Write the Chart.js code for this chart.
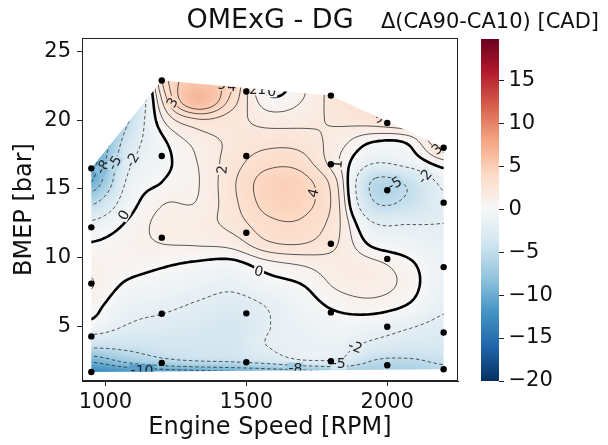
<!DOCTYPE html>
<html><head><meta charset="utf-8">
<script src="https://cdn.jsdelivr.net/npm/chart.js@4.4.1/dist/chart.umd.min.js"></script>
<style>
html,body{margin:0;padding:0;background:#fff;}
#wrap{position:relative;width:608px;height:445px;overflow:hidden;}
#main{position:absolute;left:0;top:0;}
#cbar{position:absolute;left:372px;top:0;}
</style></head><body>
<div id="wrap"><canvas id="main" width="608" height="445"></canvas><canvas id="cbar" width="236" height="445"></canvas></div>
<script>
// ---------- DATA ----------
const titleText = 'OMExG - DG';
const cbLabelText = 'Δ(CA90-CA10) [CAD]';
const xTitle = 'Engine Speed [RPM]';
const yTitle = 'BMEP [bar]';
const xTicks = [1000, 1500, 2000];
const yTicks = [5, 10, 15, 20, 25];
const cbTicks = [-20, -15, -10, -5, 0, 5, 10, 15];

// measured operating points (black dots)
const measSpeed = [950,950,950,950,950, 1200,1200,1200,1200,1200, 1500,1500,1500,1500,1500, 1800,1800,1800,1800,1800, 2000,2000,2000,2000,2000, 2200,2200,2200,2200,2200];
const measBmep  = [1.66,4.25,8.1,12.2,16.5, 2.32,5.9,11.45,17.4,22.9, 2.37,5.93,11.8,17.4,22.1, 2.44,6.0,11.0,16.8,21.8, 2.15,4.95,9.9,14.9,19.8, 1.86,4.54,9.3,14.0,18.0];

// field: one column per engine speed, values along bmepNodes
const speedNodes = [950,1075,1200,1325,1450,1575,1700,1825,1950,2075,2200];
const bmepNodes  = [1.5,2.5,3.5,5,6.5,8,9.5,11,12.5,14,15.5,17,18.5,20,21.5,23];
const dCA_950  = [-13,-9.5,-4.6,-0.6,0.5,1.05,0.7,0.1,-1.6,-5.5,-10,-11,-12,-12,-12,-12];
const dCA_1075 = [-12.5,-7.2,-4.3,-2.1,-1.2,-0.2,0.5,0.6,0.1,-0.9,-1.8,-2.8,-4.0,-5.5,-7,-8];
const dCA_1200 = [-12,-5.6,-3.8,-2.6,-1.6,-0.7,0.15,1.0,1.3,0.9,0.0,-0.5,-0.3,0.8,2.0,3.0];
const dCA_1325 = [-11.5,-4.8,-3.6,-3.0,-2.2,-1.2,-0.2,1.1,1.5,1.05,0.9,1.0,1.4,2.8,6.5,5.5];
const dCA_1450 = [-11,-4.5,-3.6,-3.4,-2.7,-1.6,-0.4,1.4,2.4,2.7,2.8,2.5,2.2,2.4,3.6,4.2];
const dCA_1575 = [-10.5,-3.6,-2.0,-2.1,-1.9,-0.6,0.6,2.8,3.7,4.4,4.5,3.6,2.6,1.6,0.3,-0.8];
const dCA_1700 = [-10,-2.1,-1.5,-1.2,-0.7,0.0,1.1,3.0,3.8,4.4,4.4,3.4,2.5,1.7,1.0,0.8];
const dCA_1825 = [-8.5,-2.2,-1.4,-0.7,0.3,1.2,1.6,2.0,2.2,2.2,1.9,1.1,1.5,2.2,2.6,2.6];
const dCA_1950 = [-7,-5.0,-2.6,-1.0,0.6,1.4,1.3,-0.3,-1.9,-4.8,-5.3,-1.7,0.1,2.6,3.2,3.5];
const dCA_2075 = [-7,-5.3,-3.2,-1.8,-0.1,0.6,0.3,-0.9,-2.1,-4.5,-4.6,-1.0,0.3,3.2,3.5,3.5];
const dCA_2200 = [-6,-4.5,-3.3,-2.5,-1.7,-1.3,-1.2,-1.6,-2.0,-2.2,-1.5,0.8,3.2,3.5,3.5,3.5];

const contourLevels = [-10,-8,-5,-2,0,1,2,3,4,5];
// inline contour labels
const clabText  = ['5','4','2','1','0','3','2','4','1','3','3','0','0','-8','-5','-2','-5','-2','-2','-5','-8','-10'];
const clabSpeed = [1413,1448,1525,1555,1590,1237,1414,1737,1822,1967,2176,1065,1544,990,1032,1095,2026,2133,1887,1828,1674,1130];
const clabBmep  = [22.6,22.5,22.25,22.25,22.1,21.3,16.4,14.7,16.8,20.2,17.9,13.1,9.0,16.6,16.9,17.1,15.4,15.9,3.5,2.27,1.9,1.78];
const clabAngle = [0,0,0,0,0,-60,-85,-75,-85,-30,-40,-60,15,-60,-60,-60,-30,-50,20,0,0,0];

// ---------- helpers ----------
const columns = [dCA_950,dCA_1075,dCA_1200,dCA_1325,dCA_1450,dCA_1575,dCA_1700,dCA_1825,dCA_1950,dCA_2075,dCA_2200];
const grid = bmepNodes.map((_, r) => columns.map(col => col[r])); // grid[r][c]
const RDBU_R = [[5,48,97],[33,102,172],[67,147,195],[146,197,222],[209,229,240],[247,247,247],[253,219,199],[244,165,130],[214,96,77],[178,24,43],[103,0,31]];
const VMIN = -20, VMAX = 20;
function cmap(v){
  let t = (v - VMIN) / (VMAX - VMIN); t = Math.max(0, Math.min(1, t));
  const f = t * 10; const k = Math.min(9, Math.floor(f)); const s = f - k;
  const a = RDBU_R[k], b = RDBU_R[k+1];
  return [a[0]+(b[0]-a[0])*s, a[1]+(b[1]-a[1])*s, a[2]+(b[2]-a[2])*s];
}
function fracIndex(nodes, x){
  if (x <= nodes[0]) return 0;
  const n = nodes.length;
  if (x >= nodes[n-1]) return n-1;
  let k = 0; while (k < n-2 && x > nodes[k+1]) k++;
  return k + (x - nodes[k]) / (nodes[k+1] - nodes[k]);
}
function cub(p0,p1,p2,p3,t){
  return p1 + 0.5*t*(p2-p0 + t*(2*p0-5*p1+4*p2-p3 + t*(3*(p1-p2)+p3-p0)));
}
function bicubic(u, v){
  const nc = speedNodes.length, nr = bmepNodes.length;
  let i = Math.min(nc-2, Math.max(0, Math.floor(u))), j = Math.min(nr-2, Math.max(0, Math.floor(v)));
  const t = u - i, s = v - j;
  const cl = (k, n) => Math.max(0, Math.min(n-1, k));
  const rows = [];
  for (let dj = -1; dj <= 2; dj++){
    const row = grid[cl(j+dj, nr)];
    rows.push(cub(row[cl(i-1,nc)], row[cl(i,nc)], row[cl(i+1,nc)], row[cl(i+2,nc)], t));
  }
  return cub(rows[0], rows[1], rows[2], rows[3], s);
}
function convexHull(P){
  P = P.slice().sort((a,b)=>a[0]-b[0]||a[1]-b[1]);
  const cross=(o,a,b)=>(a[0]-o[0])*(b[1]-o[1])-(a[1]-o[1])*(b[0]-o[0]);
  const lo=[], up=[];
  for (const p of P){ while(lo.length>=2&&cross(lo[lo.length-2],lo[lo.length-1],p)<=0) lo.pop(); lo.push(p); }
  for (let i=P.length-1;i>=0;i--){ const p=P[i]; while(up.length>=2&&cross(up[up.length-2],up[up.length-1],p)<=0) up.pop(); up.push(p); }
  up.pop(); lo.pop(); return lo.concat(up);
}
function marchingSquares(F, nx, ny, lev){
  const segs = [], pts = new Map();
  function ep(t,i,j){
    const k = t+i+'_'+j;
    if (!pts.has(k)){
      let a,b,x,y;
      if (t==='h'){ a=F[j*nx+i]; b=F[j*nx+i+1]; x=i+(lev-a)/(b-a); y=j; }
      else { a=F[j*nx+i]; b=F[(j+1)*nx+i]; x=i; y=j+(lev-a)/(b-a); }
      pts.set(k,[x,y]);
    }
    return k;
  }
  for (let j=0;j<ny-1;j++) for (let i=0;i<nx-1;i++){
    const a=F[j*nx+i], b=F[j*nx+i+1], c=F[(j+1)*nx+i+1], d=F[(j+1)*nx+i];
    const idx=(a>lev?8:0)|(b>lev?4:0)|(c>lev?2:0)|(d>lev?1:0);
    if (idx===0||idx===15) continue;
    const T=()=>ep('h',i,j), B=()=>ep('h',i,j+1), L=()=>ep('v',i,j), R=()=>ep('v',i+1,j);
    const add=(p,q)=>segs.push([p,q]);
    const m=(a+b+c+d)/4;
    switch(idx){
      case 1: add(L(),B()); break;
      case 2: add(B(),R()); break;
      case 3: add(L(),R()); break;
      case 4: add(T(),R()); break;
      case 5: if(m>lev){add(T(),L()); add(B(),R());} else {add(T(),R()); add(L(),B());} break;
      case 6: add(T(),B()); break;
      case 7: add(T(),L()); break;
      case 8: add(T(),L()); break;
      case 9: add(T(),B()); break;
      case 10: if(m>lev){add(T(),R()); add(L(),B());} else {add(T(),L()); add(B(),R());} break;
      case 11: add(T(),R()); break;
      case 12: add(L(),R()); break;
      case 13: add(B(),R()); break;
      case 14: add(L(),B()); break;
    }
  }
  const adj = new Map();
  segs.forEach((s,n)=>{ for (const k of s){ if(!adj.has(k)) adj.set(k,[]); adj.get(k).push(n); } });
  const used = new Uint8Array(segs.length), lines = [];
  for (let n=0;n<segs.length;n++){
    if (used[n]) continue; used[n]=1;
    const line=[segs[n][0], segs[n][1]];
    for (const dir of [1,0]){
      let end = dir ? line[line.length-1] : line[0];
      while (true){
        const cand = adj.get(end); let nxt=-1;
        for (const c of cand){ if(!used[c]){ nxt=c; break; } }
        if (nxt<0) break;
        used[nxt]=1; const s=segs[nxt]; const o = s[0]===end ? s[1] : s[0];
        if (dir) line.push(o); else line.unshift(o);
        end=o;
      }
    }
    lines.push(line.map(k=>pts.get(k)));
  }
  return lines;
}

const FONT = 'DejaVu Sans';
Chart.defaults.font.family = FONT;
Chart.defaults.color = '#111';

const fieldPlugin = {
  id: 'field',
  beforeDatasetsDraw(chart){
    const {ctx, chartArea, scales} = chart;
    const xs = scales.x, ys = scales.y;
    const L = chartArea.left, T = chartArea.top;
    const W = Math.round(chartArea.right - L), H = Math.round(chartArea.bottom - T);
    const off = document.createElement('canvas'); off.width = W; off.height = H;
    const octx = off.getContext('2d'); const img = octx.createImageData(W, H);
    const us = new Float64Array(W), vs = new Float64Array(H);
    for (let i=0;i<W;i++) us[i] = fracIndex(speedNodes, xs.getValueForPixel(L+i+0.5));
    for (let j=0;j<H;j++) vs[j] = fracIndex(bmepNodes, ys.getValueForPixel(T+j+0.5));
    for (let j=0;j<H;j++) for (let i=0;i<W;i++){
      const c = cmap(bicubic(us[i], vs[j])); const k=(j*W+i)*4;
      img.data[k]=c[0]; img.data[k+1]=c[1]; img.data[k+2]=c[2]; img.data[k+3]=255;
    }
    octx.putImageData(img, 0, 0);
    const hull = convexHull(measSpeed.map((x,i)=>[x, measBmep[i]]));
    ctx.save();
    ctx.beginPath();
    hull.forEach((p,k)=>{ const px=xs.getPixelForValue(p[0]), py=ys.getPixelForValue(p[1]); if(k) ctx.lineTo(px,py); else ctx.moveTo(px,py); });
    ctx.closePath(); ctx.clip();
    ctx.drawImage(off, L, T);
    // contour lines
    const S = 2, nx = Math.floor(W/S)+1, ny = Math.floor(H/S)+1;
    const F = new Float64Array(nx*ny);
    const cu = [], cv = [];
    for (let i=0;i<nx;i++) cu.push(fracIndex(speedNodes, xs.getValueForPixel(L+i*S)));
    for (let j=0;j<ny;j++) cv.push(fracIndex(bmepNodes, ys.getValueForPixel(T+j*S)));
    for (let j=0;j<ny;j++) for (let i=0;i<nx;i++) F[j*nx+i] = bicubic(cu[i], cv[j]);
    contourLevels.forEach(level => {
      const lines = marchingSquares(F, nx, ny, level);
      ctx.beginPath();
      lines.forEach(line => { line.forEach((p,k)=>{ const px=L+p[0]*S, py=T+p[1]*S; if(k) ctx.lineTo(px,py); else ctx.moveTo(px,py); }); });
      if (level === 0){ ctx.setLineDash([]); ctx.lineWidth = 2.6; ctx.strokeStyle = '#000'; }
      else if (level < 0){ ctx.setLineDash([3.5,2.5]); ctx.lineWidth = 0.9; ctx.strokeStyle = 'rgba(40,40,40,0.85)'; }
      else { ctx.setLineDash([]); ctx.lineWidth = 0.9; ctx.strokeStyle = 'rgba(40,40,40,0.85)'; }
      ctx.lineJoin = 'round';
      ctx.stroke();
    });
    ctx.setLineDash([]);
    // contour labels
    ctx.font = '14px ' + FONT;
    ctx.textAlign = 'center'; ctx.textBaseline = 'middle';
    clabText.forEach((txt, n) => {
      const px = xs.getPixelForValue(clabSpeed[n]), py = ys.getPixelForValue(clabBmep[n]);
      const c = cmap(bicubic(fracIndex(speedNodes, clabSpeed[n]), fracIndex(bmepNodes, clabBmep[n])));
      const w = ctx.measureText(txt).width;
      ctx.save(); ctx.translate(px, py); ctx.rotate(clabAngle[n]*Math.PI/180);
      ctx.fillStyle = `rgb(${c[0]|0},${c[1]|0},${c[2]|0})`;
      ctx.fillRect(-w/2-1, -6, w+2, 12);
      ctx.fillStyle = '#222'; ctx.fillText(txt, 0, 1);
      ctx.restore();
    });
    ctx.restore();
  },
  afterDraw(chart){
    const {ctx, chartArea:a} = chart;
    ctx.save(); ctx.strokeStyle = '#222'; ctx.lineWidth = 1;
    ctx.strokeRect(Math.round(a.left)+0.5, Math.round(a.top)+0.5, Math.round(a.right-a.left)-1, Math.round(a.bottom-a.top)-1);
    ctx.restore();
  }
};

const tickFont = {family: FONT, size: 21};
new Chart(document.getElementById('main'), {
  type: 'scatter',
  data: { datasets: [{ data: measSpeed.map((x,i)=>({x, y: measBmep[i]})), backgroundColor: '#000', borderColor: '#000', pointRadius: 3.2, pointHoverRadius: 3.2, borderWidth: 0 }] },
  options: {
    responsive: false, animation: false, events: [],
    layout: { padding: { left: 0, right: 150, top: 0, bottom: 0 } },
    plugins: {
      legend: { display: false }, tooltip: { enabled: false },
      title: { display: true, text: titleText, fullSize: false, color: '#111', font: { family: FONT, size: 27, weight: 'normal' }, padding: { top: 4.8, bottom: 0.8 } }
    },
    scales: {
      x: {
        type: 'linear', min: 917, max: 2251,
        afterBuildTicks: s => { s.ticks = xTicks.map(v => ({ value: v })); },
        afterFit: s => { s.height = 64; },
        ticks: { font: tickFont, color: '#111', padding: 4, maxRotation: 0, callback: v => String(v) },
        grid: { drawOnChartArea: false, drawTicks: true, tickLength: 5, color: '#222' },
        border: { display: true, color: '#222', width: 1 },
        title: { display: true, text: xTitle, color: '#111', font: { family: FONT, size: 24 }, padding: { top: 0, bottom: 2.6 } }
      },
      y: {
        type: 'linear', min: 1, max: 26,
        afterBuildTicks: s => { s.ticks = yTicks.map(v => ({ value: v })); },
        afterFit: s => { s.width = 82; },
        ticks: { font: tickFont, color: '#111', padding: 6, callback: v => String(v) },
        grid: { drawOnChartArea: false, drawTicks: true, tickLength: 5, color: '#222' },
        border: { display: true, color: '#222', width: 1 },
        title: { display: true, text: yTitle, color: '#111', font: { family: FONT, size: 24 }, padding: { top: 10.6, bottom: 0 } }
      }
    }
  },
  plugins: [fieldPlugin]
});

// ---------- colour bar ----------
const cbLabelPlugin = {
  id: 'cblabel',
  afterDraw(chart){
    const {ctx, chartArea:a} = chart;
    ctx.save();
    ctx.font = '21px ' + FONT; ctx.fillStyle = '#111';
    ctx.textAlign = 'center'; ctx.textBaseline = 'alphabetic';
    ctx.fillText(cbLabelText, (a.left + a.right)/2, 28);
    ctx.restore();
  }
};
new Chart(document.getElementById('cbar'), {
  type: 'bar',
  data: { labels: [''], datasets: [{
    data: [[VMIN, 19.8]],
    backgroundColor: (c) => {
      const ch = c.chart; if (!ch.chartArea) return '#fff';
      const ys = ch.scales.y;
      const g = ch.ctx.createLinearGradient(0, ys.getPixelForValue(VMIN), 0, ys.getPixelForValue(VMAX));
      RDBU_R.forEach((col, k) => g.addColorStop(k/10, `rgb(${col[0]},${col[1]},${col[2]})`));
      return g;
    },
    borderWidth: 0, barPercentage: 1, categoryPercentage: 1, borderSkipped: false
  }] },
  options: {
    responsive: false, animation: false, events: [],
    layout: { padding: { left: 109, right: 49, top: 39, bottom: 64 } },
    plugins: { legend: { display: false }, tooltip: { enabled: false } },
    scales: {
      x: { display: false },
      y: {
        position: 'right', min: VMIN, max: 19.8,
        afterBuildTicks: s => { s.ticks = cbTicks.map(v => ({ value: v })); },
        afterFit: s => { s.width = 60; },
        ticks: { font: tickFont, color: '#111', padding: 4.5, callback: v => String(v).replace('-', '\u2212') },
        grid: { drawOnChartArea: false, drawTicks: true, tickLength: 5, color: '#222' },
        border: { display: false }
      }
    }
  },
  plugins: [cbLabelPlugin]
});
</script>
</body></html>
